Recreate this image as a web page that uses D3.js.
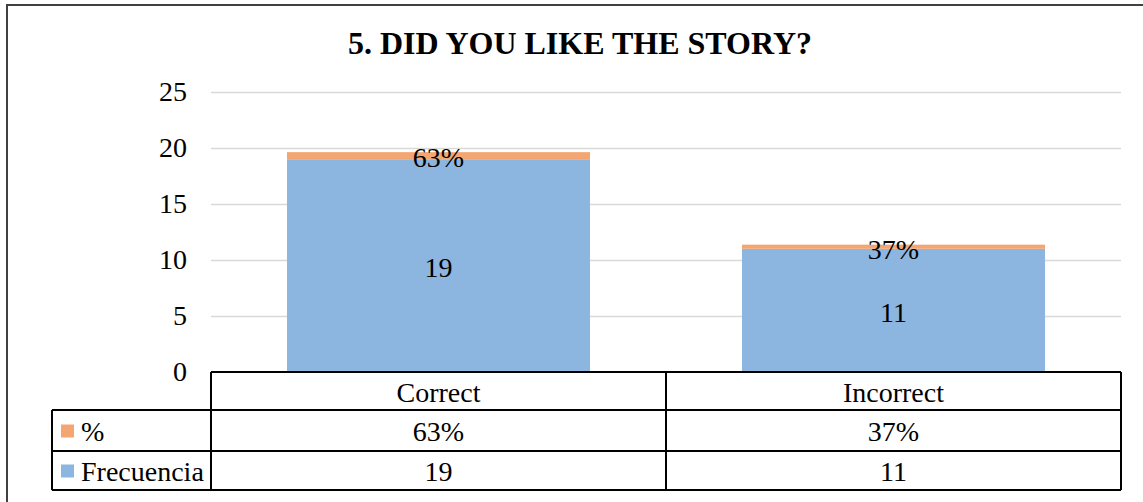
<!DOCTYPE html>
<html>
<head>
<meta charset="utf-8">
<script src="https://cdn.jsdelivr.net/npm/d3@7"></script>
<style>
  body { margin: 0; background: #fff; }
  svg { display: block; }
</style>
</head>
<body>
<div id="chart"></div>
<script>
// data
var categories = ["Correct", "Incorrect"];
var frecuencia = [19, 11];
var porcentaje = [0.63, 0.37];
var porcentajeLabels = ["63%", "37%"];
var seriesNames = ["%", "Frecuencia"];
var yTicks = [0, 5, 10, 15, 20, 25];

var W = 1143, H = 502;
var plotLeft = 211, plotRight = 1121, plotTop = 92, plotBottom = 372;
var rowH = [38, 41, 39];
var tableLeft = 52;
var serif = "Liberation Serif";
var fs = 28;

var blue = "#8cb6e0", orange = "#f3a671";

var svg = d3.select("#chart").append("svg")
  .attr("width", W)
  .attr("height", H)
  .attr("font-family", serif);

// outer frame
svg.append("rect")
  .attr("x", 7).attr("y", 5)
  .attr("width", W + 20).attr("height", H + 20)
  .attr("fill", "none")
  .attr("stroke", "#404040")
  .attr("stroke-width", 2);

svg.append("text")
  .attr("x", 580).attr("y", 54)
  .attr("text-anchor", "middle")
  .attr("font-family", serif)
  .attr("font-weight", "bold")
  .attr("font-size", 32)
  .text("5. DID YOU LIKE THE STORY?");

var x = d3.scaleBand()
  .domain(categories)
  .range([plotLeft, plotRight])
  .paddingInner(0.334)
  .paddingOuter(0.167);

var y = d3.scaleLinear()
  .domain([0, 25])
  .range([plotBottom, plotTop]);

// gridlines
svg.append("g")
  .attr("transform", "translate(" + plotLeft + ",0)")
  .call(d3.axisLeft(y).tickValues(yTicks.slice(1)).tickSize(-(plotRight - plotLeft)).tickFormat(""))
  .call(g => g.select(".domain").remove())
  .selectAll("line")
    .attr("stroke", "#d9d9d9")
    .attr("stroke-width", 1.5);

// y axis labels
svg.append("g")
  .attr("transform", "translate(" + (plotLeft - 24) + ",0)")
  .call(d3.axisLeft(y).tickValues(yTicks).tickSize(0).tickPadding(0))
  .call(g => g.select(".domain").remove())
  .call(g => g.attr("font-family", serif))
  .selectAll("text")
    .attr("font-family", serif)
    .attr("font-size", fs)
    .attr("fill", "#000");

// stacked bars
var rows = categories.map((c, i) => ({ cat: c, f: frecuencia[i], p: porcentaje[i], pl: porcentajeLabels[i] }));

var bars = svg.append("g").selectAll("g").data(rows).join("g");

bars.append("rect")
  .attr("x", d => x(d.cat))
  .attr("width", x.bandwidth())
  .attr("y", d => y(d.f))
  .attr("height", d => y(0) - y(d.f))
  .attr("fill", blue);

bars.append("rect")
  .attr("x", d => x(d.cat))
  .attr("width", x.bandwidth())
  .attr("y", d => y(d.f + d.p))
  .attr("height", d => y(d.f) - y(d.f + d.p))
  .attr("fill", orange);

bars.append("text")
  .attr("x", d => x(d.cat) + x.bandwidth() / 2)
  .attr("y", d => (y(0) + y(d.f)) / 2 + 2)
  .attr("dy", "0.35em")
  .attr("text-anchor", "middle")
  .attr("font-family", serif)
  .attr("font-size", fs)
  .text(d => d.f);

bars.append("text")
  .attr("x", d => x(d.cat) + x.bandwidth() / 2)
  .attr("y", d => (y(d.f) + y(d.f + d.p)) / 2 + 2)
  .attr("dy", "0.35em")
  .attr("text-anchor", "middle")
  .attr("font-family", serif)
  .attr("font-size", fs)
  .text(d => d.pl);

// data table
var table = svg.append("g").attr("font-family", serif);
var y0 = plotBottom, y1 = y0 + rowH[0], y2 = y1 + rowH[1], y3 = y2 + rowH[2];
var colEdges = categories.map(c => x(c) - x.step() * x.paddingInner() / 2);
colEdges.push(plotRight);
colEdges[0] = plotLeft;

var lineStyle = s => s.attr("stroke", "#000").attr("stroke-width", 2);

table.append("line").attr("x1", plotLeft).attr("x2", plotRight).attr("y1", y0).attr("y2", y0).call(lineStyle);
[y1, y2, y3].forEach(yy => {
  table.append("line").attr("x1", tableLeft).attr("x2", plotRight).attr("y1", yy).attr("y2", yy).call(lineStyle);
});
table.append("line").attr("x1", tableLeft).attr("x2", tableLeft).attr("y1", y1).attr("y2", y3).call(lineStyle);
colEdges.forEach(cx => {
  table.append("line").attr("x1", cx).attr("x2", cx).attr("y1", y0).attr("y2", y3).call(lineStyle);
});

var cx = c => x(c) + x.bandwidth() / 2;

table.selectAll(".hdr").data(categories).join("text")
  .attr("x", cx).attr("y", (y0 + y1) / 2 + 1).attr("dy", "0.35em")
  .attr("text-anchor", "middle").attr("font-family", serif).attr("font-size", fs)
  .text(d => d);

table.selectAll(".pct").data(rows).join("text")
  .attr("x", d => cx(d.cat)).attr("y", (y1 + y2) / 2 + 1).attr("dy", "0.35em")
  .attr("text-anchor", "middle").attr("font-family", serif).attr("font-size", fs)
  .text(d => d.pl);

table.selectAll(".frq").data(rows).join("text")
  .attr("x", d => cx(d.cat)).attr("y", (y2 + y3) / 2 + 1).attr("dy", "0.35em")
  .attr("text-anchor", "middle").attr("font-family", serif).attr("font-size", fs)
  .text(d => d.f);

// legend keys in row headers
var legendRows = [{ name: seriesNames[0], color: orange, ym: (y1 + y2) / 2 },
                  { name: seriesNames[1], color: blue, ym: (y2 + y3) / 2 }];
legendRows.forEach(r => {
  table.append("rect")
    .attr("x", 61).attr("y", r.ym - 6)
    .attr("width", 13).attr("height", 13)
    .attr("fill", r.color);
  table.append("text")
    .attr("x", 81).attr("y", r.ym + 1).attr("dy", "0.35em")
    .attr("font-family", serif)
    .attr("font-size", fs)
    .text(r.name);
});
</script>
</body>
</html>
